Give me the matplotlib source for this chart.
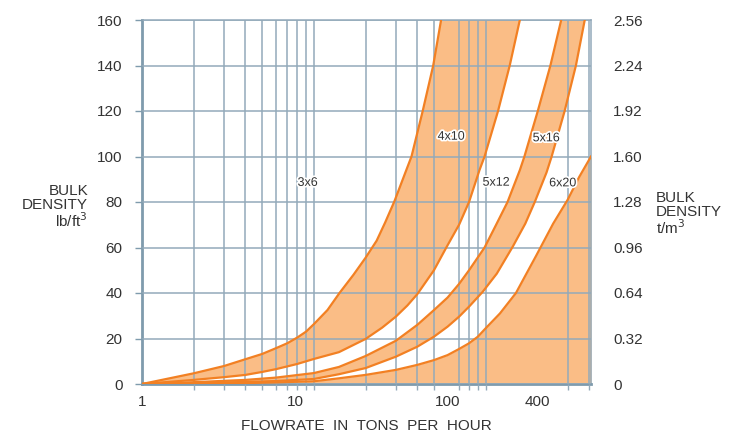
import matplotlib.pyplot as plt
import matplotlib.patheffects as pe
import numpy as np

plt.rcParams["font.family"] = ["Liberation Sans", "DejaVu Sans"]

# --- curve readings: flowrate [t/h] vs bulk density [lb/ft3] ---
c1_x = [1, 2, 3, 4, 5, 6, 7, 8, 9, 10, 12, 14.1, 17, 20, 23.2, 26, 29.5,
        34.5, 37, 43, 49.5, 55]
c1_y = [0, 4.7, 7.9, 10.9, 13.2, 15.7, 17.9, 20.4, 23, 26.3, 32.5, 40, 48,
        55.5, 63, 71, 80.5, 94, 100, 120, 140, 160]

c2_x = [1, 2, 3, 4, 5, 6, 8, 10, 14, 20, 25, 30, 35, 40, 50, 59, 70, 80,
        92, 98.5, 118, 138, 158]
c2_y = [0, 1.8, 3, 4, 5.3, 6.5, 8.8, 11, 14, 19.8, 24.8, 29.6, 34.5,
        39.5, 50, 60, 70, 80, 94, 100, 120, 140, 160]

c3_x = [1, 2, 4, 6, 10, 14, 20, 30, 40, 50, 60, 70, 80, 98.5, 115, 134,
        158, 168, 201, 238, 275]
c3_y = [0, 0.8, 1.8, 2.8, 4.8, 7.5, 12.3, 19, 26, 32.5, 38, 44, 50, 60,
        70, 80, 94, 100, 120, 140, 160]

c4_x = [1, 2, 4, 6, 10, 14, 20, 30, 40, 50, 60, 70, 80, 96, 116, 144, 170,
        193, 226, 242, 288, 335, 377]
c4_y = [0, 0.4, 0.9, 1.3, 2.2, 4.3, 7, 12, 16.4, 20.8, 25.2, 29.6, 34,
        40.5, 48.5, 60.5, 70.5, 80, 93, 100, 120, 140, 160]

c5_x = [1, 2, 4, 6, 10, 14, 20, 30, 40, 50, 60, 70, 80, 90, 100, 121, 150,
        197, 247, 300, 350, 410]
c5_y = [0, 0.2, 0.4, 0.7, 1.2, 2.5, 4, 6.2, 8.4, 10.5, 12.7, 15.4, 17.9,
        20.8, 24.5, 31, 40, 56.5, 70.5, 81, 91, 100]

# screen sizes and where their names sit
sizes = ["3x6", "4x10", "5x12", "5x16", "6x20"]
size_x = [9.2, 63, 115, 225, 281]
size_y = [88.4, 108.7, 88.5, 108, 88.2]

# axes
grid_x = [1, 2, 3, 4, 5, 6, 7, 8, 9, 10, 20, 30, 40, 50, 60, 70, 80, 90,
          100, 200, 300, 400]
xlab_pos = [1, 7.8, 60, 200]
xlab_txt = ["1", "10", "100", "400"]
lb_ticks = [0, 20, 40, 60, 80, 100, 120, 140, 160]
tm_ticks = [0, 0.32, 0.64, 0.96, 1.28, 1.60, 1.92, 2.24, 2.56]

LINE = "#F28023"
FILL = "#FABD86"
GRID = "#93AABA"
SPINE = "#7F9BAD"
TXT = "#333333"

fig = plt.figure(figsize=(7.36, 4.38), dpi=100)
ax = fig.add_axes([142 / 736, 1 - 384 / 438, 449 / 736, 364 / 438])

# filled bands
ax.fill(c1_x + c2_x[::-1], c1_y + c2_y[::-1], color=FILL, lw=0, zorder=1)
ax.fill(c3_x + c4_x[::-1], c3_y + c4_y[::-1], color=FILL, lw=0, zorder=1)
ax.fill_between(c5_x, c5_y, 0, color=FILL, lw=0, zorder=1)

for cx, cy in [(c1_x, c1_y), (c2_x, c2_y), (c3_x, c3_y), (c4_x, c4_y),
               (c5_x, c5_y)]:
	ax.plot(cx, cy, color=LINE, lw=1.6, zorder=3, solid_joinstyle="round")

for name, x, y in zip(sizes, size_x, size_y):
	ax.text(x, y, name, fontsize=9, color=TXT, ha="center", va="center",
	        zorder=4,
	        path_effects=[pe.withStroke(linewidth=2.5, foreground="white")])

ax.set_xscale("log")
ax.set_xlim(1, 410)
ax.set_ylim(0, 160)

ax.xaxis.set_ticks(grid_x, minor=True)
ax.xaxis.set_ticks(xlab_pos)
ax.xaxis.set_ticklabels(xlab_txt)
ax.xaxis.set_ticklabels([], minor=True)
ax.tick_params(axis="x", which="major", length=0, pad=8, labelsize=11,
               labelcolor=TXT)
ax.tick_params(axis="x", which="minor", length=4, width=1, color=GRID)
ax.set_yticks(lb_ticks)
ax.tick_params(axis="y", length=5, width=1, color=SPINE, pad=9,
               labelsize=11, labelcolor=TXT)

ax.grid(True, axis="x", which="minor", color=GRID, lw=1.1, zorder=2)
ax.grid(True, axis="y", which="major", color=GRID, lw=1.1, zorder=2)
ax.set_axisbelow(False)

for side in ["top", "right"]:
	ax.spines[side].set_color(GRID)
	ax.spines[side].set_linewidth(1.1)
for side in ["left", "bottom"]:
	ax.spines[side].set_color(SPINE)
	ax.spines[side].set_linewidth(2)

ax2 = ax.twinx()
ax2.set_ylim(0, 2.56)
ax2.set_yticks(tm_ticks)
ax2.set_yticklabels(["0"] + [f"{t:.2f}" for t in tm_ticks[1:]])
ax2.tick_params(axis="y", length=0, pad=16, labelsize=11, labelcolor=TXT)
for s in ax2.spines.values():
	s.set_visible(False)

ax.set_xlabel("FLOWRATE  IN  TONS  PER  HOUR", fontsize=11, color=TXT,
              labelpad=7)

fig.text(88 / 736, 1 - 207 / 438, "BULK\nDENSITY\nlb/ft$^3$", fontsize=11,
         color=TXT, ha="right", va="center", multialignment="right",
         linespacing=1.0)
fig.text(656 / 736, 1 - 214 / 438, "BULK\nDENSITY\nt/m$^3$", fontsize=11,
         color=TXT, ha="left", va="center", multialignment="left",
         linespacing=1.0)

plt.savefig("out.png", dpi=100)
